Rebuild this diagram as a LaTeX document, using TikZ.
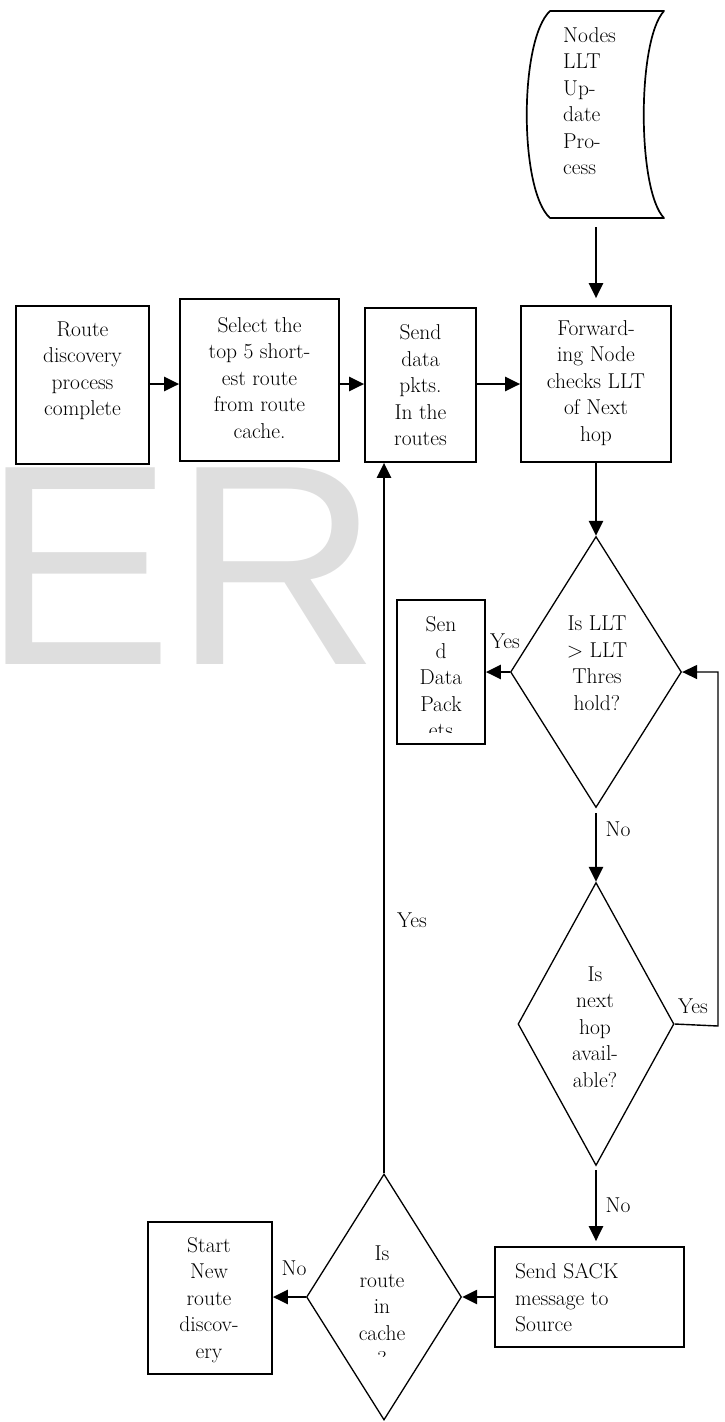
\documentclass[tikz,border=0pt]{standalone}
\usepackage{fontspec}
\newfontfamily\wmfont{Liberation Sans}
\usetikzlibrary{arrows.meta,shapes.geometric}
\definecolor{wmgray}{RGB}{222,222,222}
\begin{document}
\begin{tikzpicture}[x=1pt,y=-1pt,
  txt/.style={inner sep=0, align=center, font=\fontsize{21.5}{26.5}\selectfont},
  lbl/.style={inner sep=0, font=\fontsize{21.5}{26.5}\selectfont},
  boxshape/.style={draw, rectangle, line width=1.7pt, inner sep=0},
  decision/.style={draw, diamond, line width=1.3pt, inner sep=0},
  arr/.style={line width=2.4pt, -{Triangle[length=15pt,width=14pt]}},
  thinarr/.style={line width=1.4pt, -{Triangle[length=15pt,width=14pt]}}
]
\useasboundingbox (0,0) rectangle (724,1422);
% watermark
\node[anchor=base west, inner sep=0, text=wmgray, font=\wmfont\fontsize{286}{286}\selectfont] (wm) at (-17.6,664) {ER};

% tape shape
\draw[line width=1.7pt, line join=round] (550,11) -- (664,11) .. controls (637,40) and (637,190) .. (664,218) -- (550,218) .. controls (519,190) and (519,40) .. (550,11) -- cycle;
\node[txt, align=left, anchor=west] (tapetxt) at (563,101) {Nodes\\LLT\\Up-\\date\\Pro-\\cess};
\coordinate (tapeout) at (596,227);

% top row boxes
\node[boxshape, minimum width=133pt, minimum height=158pt] (b1) at (82.5,385) {};
\node[txt] (t1) at (82.5,370.5) {Route\\discovery\\process\\complete};
\node[boxshape, minimum width=159pt, minimum height=162pt] (b2) at (259.5,380) {};
\node[txt] (t2) at (259.5,378) {Select the\\top 5 short-\\est route\\from route\\cache.};
\node[boxshape, minimum width=111pt, minimum height=154pt] (b3) at (420.5,385) {};
\node[txt] (t3) at (420.5,385.5) {Send\\data\\pkts.\\In the\\routes};
\node[boxshape, minimum width=150pt, minimum height=156pt] (b4) at (596,384) {};
\node[txt] (t4) at (596,383) {Forward-\\ing Node\\checks LLT\\of Next\\hop};

% decisions
\node[decision, minimum width=171pt, minimum height=271pt] (d1) at (596,672) {};
\node[txt] (d1txt) at (597,663) {Is LLT\\> LLT\\Thres\\hold?};
\node[decision, minimum width=156pt, minimum height=283pt] (d2) at (596,1024) {};
\node[txt] (d2txt) at (595,1027) {Is\\next\\hop\\avail-\\able?};
\node[decision, minimum width=155pt, minimum height=246pt] (d3) at (384,1297) {};
\begin{scope}
\clip (300,1180) rectangle (470,1356);
\node[txt] (d3txt) at (382,1306.5) {Is\\route\\in\\cache\\?};
\end{scope}

% send data box
\node[boxshape, minimum width=88pt, minimum height=144pt] (sd) at (441,672) {};
\begin{scope}
\clip (397,600) rectangle (485,732);
\node[txt] (sdtxt) at (441,677.5) {Sen\\d\\Data\\Pack\\ets};
\end{scope}

% SACK box
\node[boxshape, minimum width=189pt, minimum height=100pt] (sack) at (589.5,1297) {};
\node[txt, align=left, anchor=west] (sacktxt) at (515,1298) {Send SACK\\message to\\Source};

% start box
\node[boxshape, minimum width=124pt, minimum height=152pt] (st) at (210,1298) {};
\node[txt] (sttxt) at (209,1300) {Start\\New\\route\\discov-\\ery};

% connectors
\coordinate (row) at (0,384);
\draw[arr, shorten >=7pt] (tapeout) -- (b4.north);
\draw[arr] (b1.east |- row) -- (b2.west |- row);
\draw[arr] (b2.east |- row) -- (b3.west |- row);
\draw[arr] (b3.east |- row) -- (b4.west |- row);
\draw[arr] (b4.south) -- (d1.north);
\draw[arr] (d1.west) -- (sd.east |- d1.west);
\node[lbl] (yes1) at (505,641) {Yes};
\draw[arr, shorten <=5pt] (d1.south) -- (d2.north);
\node[lbl] (no1) at (618,829) {No};
\coordinate (lb) at (718,1026);
\coordinate (lt) at (718,672);
\draw[thinarr] (d2.east) -- (lb) -- (lt) -- (d1.east);
\node[lbl] (yes2) at (693,1006) {Yes};
\draw[arr, shorten <=4pt, shorten >=5pt] (d2.south) -- (d2.south |- sack.north);
\node[lbl] (no2) at (618,1205) {No};
\draw[arr] (sack.west) -- (d3.east);
\draw[arr] (d3.west) -- (st.east |- d3.west);
\node[lbl] (no3) at (294,1268) {No};
\draw[arr] (d3.north) -- (d3.north |- b3.south);
\node[lbl] (yes3) at (412,920) {Yes};
\end{tikzpicture}
\end{document}
